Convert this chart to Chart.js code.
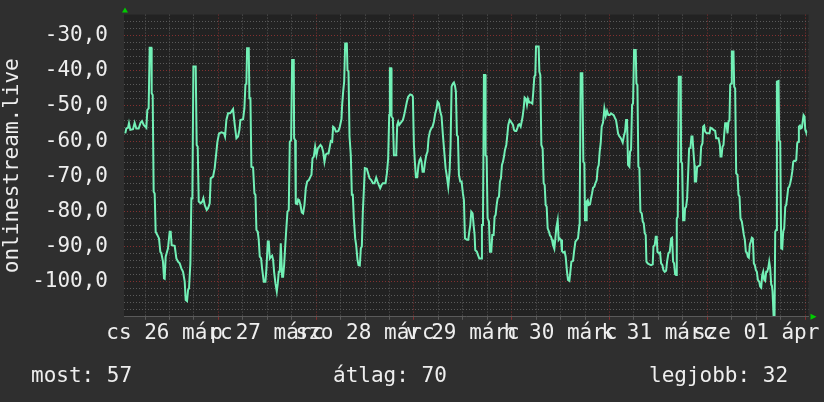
<!DOCTYPE html>
<html lang="hu">

<head>
    <meta charset="UTF-8">
    <title>onlinestream.live</title>
    <style>
        body {
            margin: 0;
            background: #2f2f2f;
        }

        #wrap {
            position: relative;
            width: 824px;
            height: 402px;
            background: #2f2f2f;
            font-family: "DejaVu Sans Mono", monospace;
            color: #eeeeee;
        }

        #chart {
            position: absolute;
            left: 0;
            top: 0;
        }

        .stat {
            position: absolute;
            top: 363px;
            font-size: 21px;
            line-height: 24px;
            white-space: pre;
        }
    </style>
    <script src="https://cdn.jsdelivr.net/npm/chart.js"></script>
</head>

<body>
    <div id="wrap">
        <canvas id="chart" width="824" height="402"></canvas>
        <div class="stat" style="left: 31px;">most: 57</div>
        <div class="stat" style="left: 333px;">átlag: 70</div>
        <div class="stat" style="left: 649px;">legjobb: 32</div>
    </div>

    <script>
        // hours since the first midnight (Thu 26 March 00:00)
        const hours = [
            1.16, 1.41, 1.82, 2.06, 2.39, 3.05, 3.45, 3.86, 4.44, 4.93,
            5.26, 5.67, 6.32, 6.57, 6.89, 7.14, 7.55, 7.63, 7.88, 8.12,
            8.37, 8.61, 9.02, 9.43, 9.76, 10.0, 10.41, 10.66, 10.82, 11.07,
            11.64, 12.05, 12.3, 12.54, 13.28, 13.69, 14.1, 14.51, 14.92, 15.33,
            15.74, 15.98, 16.31, 16.56, 16.8, 17.13, 17.37, 17.62, 17.87, 18.44,
            18.68, 18.93, 19.18, 19.67, 20.08, 20.32, 20.65, 21.14, 21.47, 21.88,
            22.12, 22.7, 23.1, 23.52, 23.76, 24.17, 24.74, 25.4, 25.64, 25.97,
            26.38, 26.87, 27.2, 27.61, 28.02, 28.43, 28.84, 29.17, 29.41, 30.07,
            30.39, 30.64, 30.88, 31.05, 31.46, 31.62, 31.87, 32.11, 32.52, 32.85,
            33.1, 33.34, 33.67, 33.91, 34.16, 34.49, 34.73, 35.14, 35.55, 35.8,
            36.13, 36.37, 36.62, 36.94, 37.19, 37.44, 37.68, 38.01, 38.34, 38.58,
            38.83, 39.07, 39.32, 39.65, 39.89, 40.14, 40.38, 40.63, 40.96, 41.28,
            41.53, 41.86, 42.1, 42.51, 42.59, 42.84, 43.0, 43.33, 43.58, 43.82,
            44.15, 44.48, 44.8, 45.13, 45.46, 45.79, 46.2, 46.61, 46.85, 47.1,
            47.43, 47.75, 48.08, 48.41, 48.73, 49.06, 49.39, 49.72, 50.04, 50.37,
            50.7, 51.03, 51.27, 51.6, 51.93, 52.17, 52.5, 52.83, 53.16, 53.48,
            53.81, 54.22, 54.38, 54.63, 54.88, 55.12, 55.53, 55.69, 55.94, 56.19,
            56.51, 56.76, 57.0, 57.25, 57.58, 57.82, 58.15, 58.4, 58.72, 58.97,
            59.21, 59.46, 59.71, 59.95, 60.44, 60.77, 61.1, 61.51, 61.92, 62.33,
            62.74, 63.06, 63.39, 63.72, 64.05, 64.37, 65.03, 65.36, 65.68, 65.93,
            66.09, 66.42, 66.5, 66.83, 67.08, 67.65, 67.89, 68.14, 68.39, 68.71,
            69.29, 69.61, 69.94, 70.27, 70.6, 71.09, 71.5, 71.74, 71.99, 72.23,
            72.48, 72.81, 73.13, 73.38, 73.63, 73.87, 74.12, 74.44, 74.69, 75.02,
            75.34, 75.59, 75.92, 76.25, 76.57, 76.9, 77.23, 77.56, 77.8, 78.13,
            78.46, 78.78, 79.11, 79.44, 79.77, 80.09, 80.42, 80.75, 80.99, 81.24,
            81.57, 81.81, 82.06, 82.3, 82.55, 82.8, 83.04, 83.37, 83.7, 84.02,
            84.27, 84.52, 85.01, 85.34, 85.58, 85.83, 86.07, 86.4, 86.65, 86.89,
            87.05, 87.46, 87.71, 88.04, 88.53, 88.69, 88.94, 89.18, 89.51, 89.59,
            89.84, 90.08, 90.41, 90.66, 90.98, 91.23, 91.56, 91.8, 92.05, 92.3,
            92.54, 92.87, 93.11, 93.36, 93.6, 93.85, 94.1, 94.34, 94.67, 94.92,
            95.16, 95.49, 95.82, 96.06, 96.31, 96.55, 96.8, 97.13, 97.37, 97.62,
            97.86, 98.19, 98.44, 98.68, 98.93, 99.17, 99.5, 99.75, 99.99, 100.32,
            100.73, 101.06, 101.3, 101.55, 101.79, 101.96, 102.61, 102.78, 103.02, 103.27,
            103.59, 103.84, 104.09, 104.33, 104.58, 104.82, 105.15, 105.4, 105.64, 105.89,
            106.13, 106.46, 106.71, 106.95, 107.28, 107.52, 107.77, 108.1, 108.34, 108.67,
            109.0, 109.24, 109.57, 109.82, 110.15, 110.39, 110.64, 111.05, 111.29, 111.62,
            111.95, 112.27, 112.6, 112.68, 112.93, 113.33, 113.58, 113.83, 113.99, 114.24,
            114.4, 114.65, 114.89, 115.22, 115.46, 115.71, 115.96, 116.28, 116.53, 116.86,
            117.1, 117.35, 117.59, 117.84, 118.08, 118.41, 118.74, 119.07, 119.39, 119.72,
            120.05, 120.38, 120.7, 121.03, 121.36, 121.6, 121.85, 122.1, 122.34, 122.67,
            122.92, 123.24, 123.57, 123.82, 124.06, 124.31, 124.55, 124.88, 125.04, 125.29,
            125.54, 125.78, 126.03, 126.44, 126.6, 126.85, 127.09, 127.34, 127.58, 127.91,
            128.16, 128.4, 128.65, 128.89, 129.06, 129.38, 129.79, 130.2, 130.61, 130.78,
            131.1, 131.35, 131.59, 131.76, 132.09, 132.41, 132.66, 132.99, 133.23, 133.56,
            133.89, 134.13, 134.46, 134.79, 135.12, 135.36, 135.61, 135.85, 136.1, 136.34,
            136.51, 136.75, 137.0, 137.49, 137.57, 137.82, 138.06, 138.39, 138.55, 138.8,
            139.05, 139.29, 139.54, 139.87, 140.11, 140.36, 140.6, 140.85, 140.94, 141.26,
            141.51, 141.84, 142.25, 142.49, 142.82, 142.98, 143.23, 143.47, 143.88, 144.29,
            144.54, 144.78, 145.11, 145.52, 145.93, 146.18, 146.75, 147.08, 147.24, 147.49,
            147.73, 147.98, 148.14, 148.39, 148.71, 148.96, 149.21, 149.45, 149.62, 149.86,
            150.02, 150.43, 150.6, 150.84, 151.09, 151.42, 151.66, 151.91, 152.15, 152.48,
            152.73, 152.97, 153.22, 153.46, 153.71, 153.95, 154.2, 154.45, 154.69, 154.94,
            155.18, 155.43, 155.67, 155.92, 156.17, 156.41, 156.74, 156.98, 157.23, 157.48,
            157.72, 157.97, 158.21, 158.46, 158.7, 158.95, 159.2, 159.44, 159.69, 159.85,
            160.01, 160.26, 160.51, 160.67, 160.91, 161.08, 161.49, 161.65, 161.9, 162.14,
            162.39, 162.63, 162.88, 163.13, 163.37, 163.62, 163.86, 164.11, 164.35, 164.6,
            164.85, 165.09, 165.34, 165.58, 165.83, 166.07, 166.32, 166.48, 166.73, 166.97,
            167.22, 167.46, 167.63, 167.87, 168.04, 168.2, 168.45
        ];

        // plotted value (negated rank)
        const values = [
            -57.8, -56.4, -56.2, -54.9, -56.8, -56.6, -54.8, -56.4, -56.4, -54.7,
            -54.3, -55.4, -56.2, -51.1, -50.7, -33.4, -33.4, -46.4, -46.9, -74.4,
            -74.9, -85.8, -86.7, -87.7, -91.5, -91.9, -94.3, -99.1, -99.2, -92.9,
            -90.5, -85.8, -85.8, -89.6, -89.8, -93.4, -94.3, -94.8, -96.2, -97.2,
            -100.0, -105.2, -105.5, -102.4, -101.9, -94.8, -76.3, -76.3, -38.8, -38.8,
            -61.1, -61.6, -77.2, -77.7, -77.2, -76.3, -78.2, -79.6, -79.1, -77.7,
            -70.6, -70.1, -67.7, -63.0, -60.2, -57.8, -57.5, -57.8, -58.7, -54.0,
            -52.1, -52.1, -51.6, -50.9, -55.4, -59.2, -58.7, -56.8, -54.0, -53.8,
            -50.7, -44.0, -43.6, -33.6, -33.6, -47.8, -47.8, -67.3, -67.5, -74.9,
            -75.3, -85.3, -85.8, -88.1, -92.9, -93.4, -96.2, -100.0, -100.0, -96.2,
            -88.6, -88.6, -93.4, -92.9, -92.6, -93.8, -97.2, -100.5, -102.8, -100.5,
            -97.2, -97.2, -89.1, -98.6, -98.6, -95.3, -90.5, -85.8, -80.1, -79.6,
            -60.2, -59.7, -36.9, -36.9, -59.2, -59.7, -77.7, -77.9, -76.6, -76.8,
            -78.2, -80.3, -80.6, -78.2, -73.4, -71.5, -71.1, -70.1, -69.6, -64.9,
            -64.4, -61.6, -64.0, -62.1, -61.6, -61.1, -61.6, -63.0, -65.9, -63.8,
            -63.5, -63.5, -62.1, -60.0, -60.2, -55.9, -56.2, -57.3, -57.3, -57.1,
            -55.9, -53.7, -49.7, -45.9, -43.1, -32.2, -32.2, -39.8, -40.2, -58.7,
            -64.0, -75.3, -75.3, -82.0, -87.7, -89.6, -93.8, -95.3, -95.4, -90.5,
            -90.0, -80.1, -73.9, -67.7, -67.9, -69.2, -70.6, -71.1, -72.0, -72.0,
            -70.4, -71.5, -72.5, -73.4, -72.5, -72.0, -72.0, -69.2, -64.9, -52.6,
            -39.3, -39.3, -53.0, -53.5, -64.0, -64.0, -55.4, -54.5, -55.4, -54.9,
            -54.0, -52.6, -50.7, -48.8, -47.4, -46.7, -46.9, -47.4, -61.1, -65.9,
            -70.3, -70.3, -66.8, -65.4, -64.9, -65.9, -68.7, -68.7, -66.3, -64.0,
            -63.0, -59.2, -57.3, -56.4, -55.9, -54.5, -52.1, -50.7, -48.8, -49.3,
            -51.6, -53.0, -58.3, -63.0, -67.7, -70.1, -73.0, -68.7, -61.1, -44.5,
            -43.6, -43.3, -44.2, -45.9, -58.3, -58.7, -69.6, -71.5, -71.5, -74.9,
            -76.8, -87.7, -88.1, -88.1, -85.8, -83.9, -80.1, -80.6, -83.9, -86.7,
            -91.0, -91.5, -92.4, -93.4, -93.4, -83.9, -83.9, -41.2, -41.2, -64.0,
            -64.4, -82.0, -82.9, -91.5, -91.5, -86.7, -86.7, -81.5, -81.0, -78.2,
            -76.3, -75.8, -71.5, -70.6, -66.8, -65.9, -64.4, -62.5, -61.1, -58.3,
            -55.4, -54.0, -54.5, -54.9, -55.4, -56.8, -57.1, -57.1, -56.4, -55.4,
            -55.2, -55.9, -54.5, -53.0, -50.7, -47.6, -48.0, -49.7, -48.0, -49.0,
            -49.0, -49.3, -45.9, -41.7, -41.2, -33.1, -33.1, -40.2, -41.2, -61.1,
            -62.1, -72.0, -72.5, -78.2, -78.7, -84.8, -85.8, -86.9, -87.2, -88.1,
            -89.6, -90.7, -87.7, -84.6, -82.5, -88.1, -87.7, -88.1, -91.3, -91.7,
            -91.5, -92.9, -97.2, -99.5, -99.8, -97.2, -94.3, -94.1, -91.5, -88.6,
            -88.1, -87.7, -83.9, -81.5, -40.7, -40.7, -65.9, -66.3, -82.5, -82.5,
            -77.2, -76.8, -78.2, -78.0, -76.3, -74.9, -73.3, -73.0, -72.0, -71.1,
            -67.7, -66.8, -63.0, -60.6, -55.9, -54.7, -50.7, -52.8, -51.4, -52.6,
            -52.6, -52.1, -52.4, -52.6, -53.5, -54.0, -55.9, -57.8, -58.5, -59.0,
            -59.5, -60.4, -58.3, -57.3, -54.0, -54.0, -66.8, -67.3, -63.0, -62.5,
            -49.7, -49.3, -34.1, -34.1, -43.6, -44.0, -67.3, -67.7, -80.1, -80.6,
            -82.9, -83.4, -86.2, -86.7, -94.3, -94.8, -95.1, -95.3, -95.1, -90.0,
            -89.6, -87.2, -87.2, -91.5, -91.9, -91.7, -94.8, -95.3, -96.7, -97.2,
            -96.9, -94.3, -91.9, -91.5, -87.7, -87.5, -94.3, -94.8, -97.9, -98.1,
            -82.0, -81.6, -41.7, -41.7, -65.9, -66.3, -82.5, -82.5, -79.1, -78.7,
            -76.3, -69.6, -62.1, -61.9, -58.7, -58.7, -63.0, -66.8, -71.5, -71.5,
            -67.3, -67.1, -66.8, -61.6, -60.6, -55.9, -55.6, -57.3, -57.8, -57.8,
            -57.8, -56.2, -56.4, -56.8, -57.1, -59.2, -59.2, -61.1, -64.4, -64.4,
            -61.6, -61.1, -58.3, -54.9, -54.9, -57.8, -54.5, -54.0, -44.0, -43.6,
            -34.5, -34.5, -44.5, -45.0, -69.2, -69.6, -75.3, -75.8, -82.0, -82.9,
            -84.8, -86.7, -88.1, -91.5, -91.7, -92.9, -93.2, -89.4, -88.6, -87.5,
            -87.7, -94.8, -95.3, -96.7, -97.2, -99.5, -100.0, -101.4, -101.7, -98.1,
            -97.2, -99.5, -99.8, -97.2, -97.2, -96.2, -94.3, -96.2, -100.9, -101.1,
            -102.8, -109.5, -109.5, -85.8, -85.3, -43.1, -42.9, -59.7, -60.2, -90.5,
            -90.7, -85.8, -84.8, -78.7, -78.2, -75.8, -73.3, -73.0, -72.0, -70.6,
            -68.7, -65.9, -65.6, -65.7, -65.4, -60.6, -60.2, -55.9, -55.6, -56.4,
            -56.2, -54.0, -52.6, -53.0, -56.8, -57.3, -57.6
        ];

        // day labels sit at noon
        const dayLabels = ['cs 26 márc', 'p 27 márc', 'szo 28 márc', 'v 29 márc', 'h 30 márc', 'k 31 márc', 'sze 01 ápr'];
        const labelHours = [12, 36, 60, 84, 108, 132, 156];

        const xMin = 0.84, xMax = 168.84;
        const yMin = -110, yMax = -24;

        // grid every 6 hours, every 2 on the value axis
        const xGrid = [];
        for (let h = 6; h <= 168; h += 6) xGrid.push(h);
        const yGrid = [];
        for (let v = -108; v <= -26; v += 2) yGrid.push(v);

        const txtColor = '#eeeeee';
        const font = { family: '"DejaVu Sans Mono", monospace', size: 21 };
        const minorGrid = '#5a5a5a';
        const majorGrid = '#833030';

        const rrdLook = {
            id: 'rrdLook',
            beforeDraw(chart) {
                const { ctx, chartArea: a } = chart;
                ctx.save();
                ctx.fillStyle = '#222222';
                ctx.fillRect(a.left, a.top, a.right - a.left, a.bottom - a.top);
                ctx.restore();
            },
            afterDraw(chart) {
                const { ctx, chartArea: a } = chart;
                ctx.save();
                ctx.fillStyle = '#00cc00';
                ctx.beginPath();
                ctx.moveTo(a.left - 2, a.top - 2);
                ctx.lineTo(a.left + 4, a.top - 2);
                ctx.lineTo(a.left + 1, a.top - 7);
                ctx.closePath();
                ctx.fill();
                ctx.beginPath();
                ctx.moveTo(a.right + 2, a.bottom - 3);
                ctx.lineTo(a.right + 2, a.bottom + 3);
                ctx.lineTo(a.right + 8, a.bottom);
                ctx.closePath();
                ctx.fill();
                ctx.restore();
            }
        };

        // fixed box sizes, no label overhang padding
        function fixX(scale) {
            scale.height = 85.2;
            scale.paddingLeft = 0;
            scale.paddingRight = 0;
        }

        function fixY(scale) {
            scale.width = 124;
            scale.paddingTop = 0;
            scale.paddingBottom = 0;
        }

        new Chart(document.getElementById('chart'), {
            type: 'line',
            data: {
                datasets: [{
                    data: hours.map((h, i) => ({ x: h, y: values[i] })),
                    borderColor: '#72f0b6',
                    borderWidth: 2,
                    pointRadius: 0,
                    tension: 0,
                    fill: false
                }]
            },
            options: {
                responsive: false,
                animation: false,
                layout: { padding: { top: 14.6, right: 15.5, bottom: 0, left: 0 } },
                plugins: {
                    legend: { display: false },
                    tooltip: { enabled: false }
                },
                scales: {
                    x: {
                        type: 'linear',
                        min: xMin,
                        max: xMax,
                        afterBuildTicks: scale => { scale.ticks = xGrid.map(v => ({ value: v })); },
                        afterFit: fixX,
                        grid: {
                            color: ctx => ctx.tick && ctx.tick.value % 24 === 0 ? majorGrid : minorGrid,
                            lineWidth: 1,
                            tickLength: 3
                        },
                        border: { display: true, color: '#5a5a5a', dash: [1, 2] },
                        ticks: {
                            autoSkip: false,
                            maxRotation: 0,
                            minRotation: 0,
                            padding: 1,
                            color: txtColor,
                            font: font,
                            callback: v => {
                                const i = labelHours.indexOf(v);
                                return i < 0 ? '' : dayLabels[i];
                            }
                        }
                    },
                    y: {
                        min: yMin,
                        max: yMax,
                        afterBuildTicks: scale => { scale.ticks = yGrid.map(v => ({ value: v })); },
                        afterFit: fixY,
                        grid: {
                            color: ctx => ctx.tick && ctx.tick.value % 10 === 0 ? majorGrid : minorGrid,
                            lineWidth: 1,
                            drawTicks: false
                        },
                        border: { display: false, dash: [1, 2] },
                        ticks: {
                            autoSkip: false,
                            padding: 16,
                            color: txtColor,
                            font: font,
                            callback: v => v % 10 === 0 ? v.toFixed(1).replace('.', ',') : ''
                        },
                        title: {
                            display: true,
                            text: 'onlinestream.live',
                            color: txtColor,
                            font: font,
                            padding: 0
                        }
                    }
                }
            },
            plugins: [rrdLook]
        });
    </script>
</body>

</html>
